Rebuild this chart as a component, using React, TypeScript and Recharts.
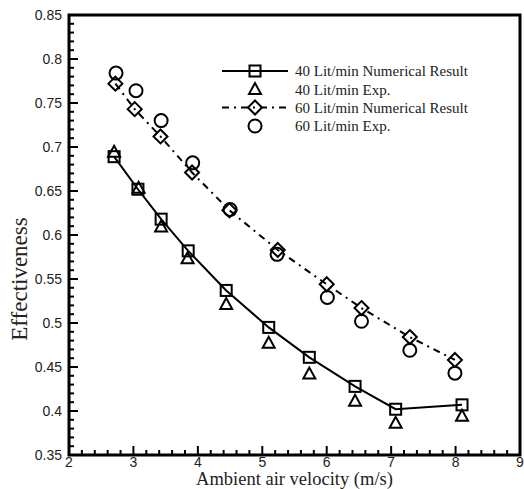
import React from 'react';
import { ScatterChart, Scatter, XAxis, YAxis, ReferenceArea, ReferenceLine } from 'recharts';

if (typeof document !== 'undefined') {
  document.documentElement.style.overflow = 'hidden';
  document.body.style.margin = '0';
  document.body.style.overflow = 'hidden';
}

// Ambient air velocity (m/s) and effectiveness values per series
const x40Num = [2.70, 3.07, 3.43, 3.85, 4.44, 5.10, 5.73, 6.44, 7.07, 8.10];
const y40Num = [0.689, 0.652, 0.618, 0.582, 0.537, 0.495, 0.461, 0.428, 0.402, 0.407];

const x40Exp = [2.70, 3.08, 3.43, 3.84, 4.44, 5.10, 5.73, 6.44, 7.07, 8.10];
const y40Exp = [0.694, 0.653, 0.609, 0.573, 0.521, 0.477, 0.442, 0.411, 0.386, 0.394];

const x60Num = [2.72, 3.02, 3.42, 3.91, 4.49, 5.24, 6.00, 6.54, 7.29, 7.99];
const y60Num = [0.772, 0.743, 0.712, 0.671, 0.628, 0.583, 0.544, 0.517, 0.484, 0.458];

const x60Exp = [2.73, 3.04, 3.43, 3.92, 4.50, 5.23, 6.01, 6.54, 7.29, 7.99];
const y60Exp = [0.784, 0.764, 0.730, 0.682, 0.629, 0.578, 0.529, 0.502, 0.469, 0.443];

const seriesNames = [
  '40 Lit/min Numerical Result',
  '40 Lit/min Exp.',
  '60 Lit/min Numerical Result',
  '60 Lit/min Exp.',
];

const xDomain = [2, 9];
const yDomain = [0.35, 0.85];
const xMajor = [2, 3, 4, 5, 6, 7, 8, 9];
const yMajor = [0.35, 0.4, 0.45, 0.5, 0.55, 0.6, 0.65, 0.7, 0.75, 0.8, 0.85];

const xTicks: number[] = [];
for (let i = 0; i <= 35; i++) xTicks.push(+(2 + i * 0.2).toFixed(2));
const yTicks: number[] = [];
for (let i = 0; i <= 50; i++) yTicks.push(+(0.35 + i * 0.01).toFixed(2));

const isMajor = (list: number[], v: number) => list.some((m) => Math.abs(m - v) < 1e-6);
const zip = (xs: number[], ys: number[]) => xs.map((x, i) => ({ x, y: ys[i] }));

// inward tick-mark lengths in data units (major, minor)
const xTickLen = [0.0102, 0.0057];
const yTickLen = [0.14, 0.078];
const bottomMarks = xTicks.filter((t) => t > xDomain[0] && t < xDomain[1]);
const leftMarks = yTicks.filter((t) => t > yDomain[0] && t < yDomain[1]);

const SANS = 'Liberation Sans, Arial, sans-serif';
const SERIF = 'Liberation Serif, Times New Roman, serif';

const Square = (p: any) => (
  <rect x={p.cx - 5.5} y={p.cy - 5.5} width={11} height={11} fill="none" stroke="#000" strokeWidth={2} />
);
const Triangle = (p: any) => (
  <polygon
    points={`${p.cx},${p.cy - 6.5} ${p.cx - 6},${p.cy + 4.5} ${p.cx + 6},${p.cy + 4.5}`}
    fill="none"
    stroke="#000"
    strokeWidth={2}
  />
);
const Diamond = (p: any) => (
  <polygon
    points={`${p.cx},${p.cy - 7} ${p.cx + 7},${p.cy} ${p.cx},${p.cy + 7} ${p.cx - 7},${p.cy}`}
    fill="none"
    stroke="#000"
    strokeWidth={2}
  />
);
const Circle = (p: any) => <circle cx={p.cx} cy={p.cy} r={6.5} fill="none" stroke="#000" strokeWidth={2} />;

const YTick = (props: any) => {
  const v = props.payload.value;
  if (!isMajor(yMajor, v)) return <g />;
  return (
    <text x={Number(props.x)} y={Number(props.y)} dy={5} textAnchor="end" fontSize={14} fontFamily={SANS} fill="#222">
      {String(v)}
    </text>
  );
};

const XTick = (props: any) => {
  const v = props.payload.value;
  if (!isMajor(xMajor, v)) return <g />;
  return (
    <text x={Number(props.x)} y={Number(props.y)} dy={10} textAnchor="middle" fontSize={14} fontFamily={SANS} fill="#222">
      {String(v)}
    </text>
  );
};

const YLabel = (props: any) => {
  const vb = props.viewBox || { x: 0, y: 15, width: 69, height: 440 };
  const cx = Number(vb.x) + 19;
  const cy = Number(vb.y) + Number(vb.height) * 0.6;
  return (
    <text
      x={cx}
      y={cy}
      transform={`rotate(-90, ${cx}, ${cy})`}
      textAnchor="middle"
      dy={8}
      fontSize={23}
      fontFamily={SERIF}
      fill="#222"
    >
      Effectiveness
    </text>
  );
};

const XLabel = (props: any) => {
  const vb = props.viewBox || { x: 69, y: 455, width: 451, height: 34 };
  return (
    <text
      x={Number(vb.x) + Number(vb.width) / 2}
      y={Number(vb.y) + 30}
      textAnchor="middle"
      fontSize={18.5}
      fontFamily={SERIF}
      fill="#222"
    >
      Ambient air velocity (m/s)
    </text>
  );
};

// legend drawn inside the chart svg
const LegendBox = () => {
  const left = 215;
  const rows = [71, 89.5, 107.5, 126];
  const markers = [Square, Triangle, Diamond, Circle];
  return (
    <g className="legend-box">
      <line x1={left + 7} x2={left + 73} y1={rows[0]} y2={rows[0]} stroke="#000" strokeWidth={2} />
      <line
        x1={left + 7}
        x2={left + 73}
        y1={rows[2]}
        y2={rows[2]}
        stroke="#000"
        strokeWidth={2}
        strokeDasharray="7 5 2 5"
      />
      {markers.map((M, i) => (
        <M key={i} cx={left + 40} cy={rows[i]} />
      ))}
      {seriesNames.map((n, i) => (
        <text key={n} x={left + 80} y={rows[i]} dy={5} fontSize={15} fontFamily={SERIF} fill="#222">
          {n}
        </text>
      ))}
    </g>
  );
};

export default function App() {
  return (
    <div style={{ width: 524, height: 489 }}>
      <ScatterChart width={524} height={489} margin={{ top: 15, right: 4, left: 0, bottom: 0 }}>
        <XAxis
          type="number"
          dataKey="x"
          domain={xDomain}
          ticks={xTicks}
          interval={0}
          height={34}
          tickSize={0}
          tickMargin={2}
          axisLine={false}
          tickLine={false}
          tick={<XTick />}
          label={<XLabel />}
        />
        <YAxis
          type="number"
          dataKey="y"
          domain={yDomain}
          ticks={yTicks}
          interval={0}
          width={69}
          tickSize={0}
          tickMargin={7}
          axisLine={false}
          tickLine={false}
          tick={<YTick />}
          label={<YLabel />}
        />
        {bottomMarks.map((t) => (
          <ReferenceLine
            key={`bx${t}`}
            segment={[
              { x: t, y: yDomain[0] },
              { x: t, y: yDomain[0] + (isMajor(xMajor, t) ? xTickLen[0] : xTickLen[1]) },
            ]}
            stroke="#000"
            strokeWidth={2}
          />
        ))}
        {leftMarks.map((t) => (
          <ReferenceLine
            key={`ly${t}`}
            segment={[
              { x: xDomain[0], y: t },
              { x: xDomain[0] + (isMajor(yMajor, t) ? yTickLen[0] : yTickLen[1]), y: t },
            ]}
            stroke="#000"
            strokeWidth={2}
          />
        ))}
        <ReferenceArea
          x1={xDomain[0]}
          x2={xDomain[1]}
          y1={yDomain[0]}
          y2={yDomain[1]}
          fill="none"
          stroke="#000"
          strokeWidth={3}
        />
        <Scatter
          name={seriesNames[0]}
          data={zip(x40Num, y40Num)}
          line={{ stroke: '#000', strokeWidth: 2 }}
          lineJointType="linear"
          shape={<Square />}
          isAnimationActive={false}
        />
        <Scatter name={seriesNames[1]} data={zip(x40Exp, y40Exp)} shape={<Triangle />} isAnimationActive={false} />
        <Scatter
          name={seriesNames[2]}
          data={zip(x60Num, y60Num)}
          line={{ stroke: '#000', strokeWidth: 2, strokeDasharray: '7 5 2 5' }}
          lineJointType="linear"
          shape={<Diamond />}
          isAnimationActive={false}
        />
        <Scatter name={seriesNames[3]} data={zip(x60Exp, y60Exp)} shape={<Circle />} isAnimationActive={false} />
        <LegendBox />
      </ScatterChart>
    </div>
  );
}
